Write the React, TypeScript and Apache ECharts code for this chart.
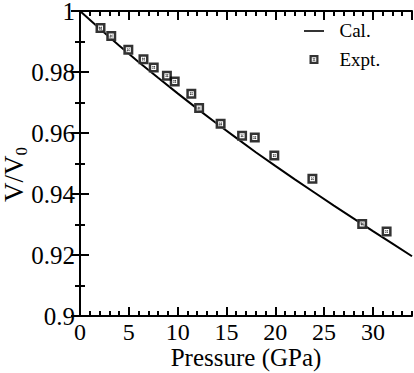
import React, { useEffect, useRef } from 'react';
import * as echarts from 'echarts';

// Calculated curve
const pressureCal = [0, 2, 4, 6, 8, 10, 12, 14, 16, 18, 20, 22, 24, 26, 28, 30, 32, 34];
const vCal = [1.0, 0.9943, 0.9887, 0.9833, 0.9781, 0.973, 0.968, 0.9631, 0.9584, 0.9537, 0.9492, 0.9448, 0.9405, 0.9362, 0.932, 0.9278, 0.9237, 0.9196];

const pressureExpt = [2.1, 3.2, 4.95, 6.5, 7.55, 8.9, 9.7, 11.4, 12.2, 14.4, 16.6, 17.9, 19.9, 23.8, 28.9, 31.4];
const vExpt = [0.9944, 0.9918, 0.9873, 0.9842, 0.9815, 0.9788, 0.9769, 0.9729, 0.9682, 0.963, 0.9591, 0.9585, 0.9526, 0.945, 0.9302, 0.9277];

const seriesNames = ['Cal.', 'Expt.'];
const xTitle = 'Pressure (GPa)';

const FONT = "'Liberation Serif', 'Times New Roman', serif";
const MARKER = 'path://M0,0H10V10H0Z M2.5,2.5V7.5H7.5V2.5Z M3.4,4.1L4.1,3.4L6.6,5.9L5.9,6.6Z M6.6,4.1L5.9,3.4L3.4,5.9L4.1,6.6Z';
const LINE_ICON = 'path://M0,0M0,4.2H20V5.8H0ZM20,9';

export default function App() {
  const ref = useRef<HTMLDivElement>(null);
  useEffect(() => {
    const chart = echarts.init(ref.current!, null, { renderer: 'svg' });
    const black = '#000';
    const tickStyle = { color: black, width: 2 };
    const baseX = { type: 'value', min: 0, max: 34, splitLine: { show: false } };
    const baseY = { type: 'value', min: 0.9, max: 1, interval: 0.02, splitLine: { show: false } };
    chart.setOption({
      animation: false,
      grid: { left: 80, right: 2, top: 11, bottom: 57, outerBoundsMode: 'none' },
      legend: {
        orient: 'vertical',
        left: 299,
        top: 16,
        itemWidth: 21,
        itemHeight: 9,
        itemGap: 10,
        data: [
          { name: seriesNames[0], icon: LINE_ICON },
          { name: seriesNames[1] },
        ],
        textStyle: { fontFamily: FONT, fontSize: 19, color: black, lineHeight: 19, padding: [0, 0, 0, 10] },
      },
      xAxis: [
        {
          ...baseX,
          position: 'bottom',
          interval: 5,
          axisLine: { show: true, lineStyle: { color: black, width: 2 } },
          axisTick: { show: true, inside: true, length: 9, lineStyle: tickStyle },
          axisLabel: { show: true, fontFamily: FONT, fontSize: 24, lineHeight: 20, color: black, margin: 6, showMaxLabel: false },
          name: xTitle,
          nameLocation: 'middle',
          nameGap: 31,
          nameMoveOverlap: false,
          nameTextStyle: { fontFamily: FONT, fontSize: 25, lineHeight: 20, color: black },
        },
        {
          ...baseX,
          position: 'bottom',
          interval: 1,
          axisLine: { show: false },
          axisTick: { show: true, inside: true, length: 5, lineStyle: tickStyle },
          axisLabel: { show: false },
        },
        {
          ...baseX,
          position: 'top',
          interval: 5,
          axisLine: { show: true, lineStyle: { color: black, width: 2 } },
          axisTick: { show: true, inside: true, length: 9, lineStyle: tickStyle },
          axisLabel: { show: false },
        },
        {
          ...baseX,
          position: 'top',
          interval: 1,
          axisLine: { show: false },
          axisTick: { show: true, inside: true, length: 5, lineStyle: tickStyle },
          axisLabel: { show: false },
        },
      ],
      yAxis: [
        {
          ...baseY,
          position: 'left',
          axisLine: { show: true, lineStyle: { color: black, width: 2 } },
          axisTick: { show: true, inside: true, length: 9, lineStyle: tickStyle },
          minorTick: { show: true, splitNumber: 2, length: 5, lineStyle: tickStyle },
          axisLabel: { show: true, fontFamily: FONT, fontSize: 25, lineHeight: 20, color: black, margin: 5 },
          name: 'V/V{s|0}',
          nameLocation: 'middle',
          nameRotate: 90,
          nameGap: 50,
          nameMoveOverlap: false,
          nameTextStyle: {
            fontFamily: FONT,
            fontSize: 27,
            color: black,
            padding: [0, 22, 0, 0],
            rich: {
              s: { fontFamily: FONT, fontSize: 17, color: black, verticalAlign: 'bottom', padding: [16, 0, 0, 0] },
            },
          },
        },
        {
          ...baseY,
          position: 'right',
          axisLine: { show: true, lineStyle: { color: black, width: 2 } },
          axisTick: { show: true, inside: true, length: 9, lineStyle: tickStyle },
          minorTick: { show: true, splitNumber: 2, length: 5, lineStyle: tickStyle },
          axisLabel: { show: false },
        },
      ],
      series: [
        {
          name: seriesNames[0],
          type: 'line',
          xAxisIndex: 0,
          yAxisIndex: 0,
          data: pressureCal.map((p, i) => [p, vCal[i]]),
          symbol: 'none',
          showSymbol: false,
          lineStyle: { color: black, width: 2 },
          itemStyle: { color: black },
          z: 2,
        },
        {
          name: 'bg',
          type: 'scatter',
          xAxisIndex: 0,
          yAxisIndex: 0,
          data: pressureExpt.map((p, i) => [p, vExpt[i]]),
          symbol: 'rect',
          symbolSize: 10,
          itemStyle: { color: '#fff' },
          silent: true,
          z: 3,
        },
        {
          name: seriesNames[1],
          type: 'scatter',
          xAxisIndex: 0,
          yAxisIndex: 0,
          data: pressureExpt.map((p, i) => [p, vExpt[i]]),
          symbol: MARKER,
          symbolSize: 10,
          symbolKeepAspect: true,
          itemStyle: { color: black },
          z: 4,
        },
      ],
    });
    return () => chart.dispose();
  }, []);
  return <div ref={ref} style={{ position: 'absolute', left: 0, top: 0, width: 414, height: 373 }} />;
}
